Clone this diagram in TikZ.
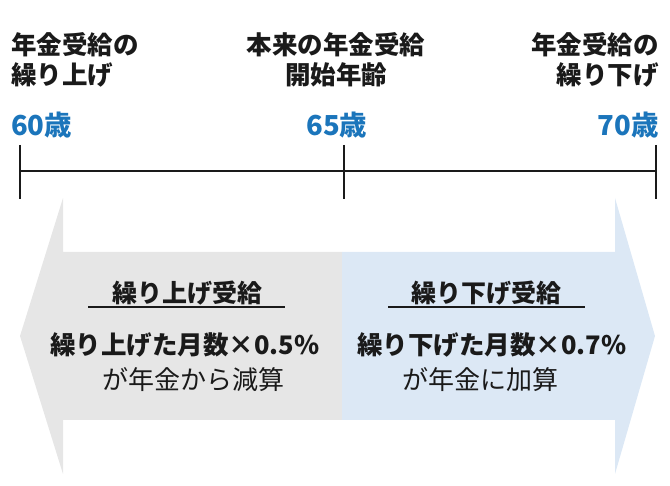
\documentclass[tikz,border=0pt]{standalone}
\usepackage{fontspec}
\setmainfont{Noto Sans CJK JP}
\definecolor{ageblue}{HTML}{1B75BB}
\definecolor{leftgray}{HTML}{E6E6E6}
\definecolor{rightblue}{HTML}{DCE8F5}
\definecolor{txt}{HTML}{1A1A1A}
\tikzset{
  toplabel/.style={font=\bfseries\fontsize{25.5}{30}\selectfont, text=txt, inner sep=0pt},
  agelabel/.style={font=\bfseries\fontsize{27.5}{30}\selectfont, text=ageblue, inner sep=0pt},
  tline/.style={line width=1.4pt, draw=txt},
  boxtitle/.style={font=\bfseries\fontsize{25}{28}\selectfont, text=txt, inner sep=0pt},
  boxmain/.style={font=\bfseries\fontsize{25.5}{28}\selectfont, text=txt, inner sep=0pt},
  boxsub/.style={font=\fontsize{26}{28}\selectfont, text=txt, inner sep=0pt},
  uline/.style={line width=1.4pt, draw=txt}
}
\begin{document}
\begin{tikzpicture}[x=1pt,y=-1pt]
\useasboundingbox (0,0) rectangle (670,486);
% arrows
\fill[leftgray] (342,252) -- (63,252) -- (63,198) -- (20,336) -- (63,474) -- (63,420) -- (342,420) -- cycle;
\fill[rightblue] (342,252) -- (615,252) -- (615,198) -- (655,336) -- (615,474) -- (615,420) -- (342,420) -- cycle;
% top labels
\node[toplabel, anchor=west, align=left] (lup) at (11,60) {年金受給の\\繰り上げ};
\node[toplabel, anchor=center, align=center] (lmid) at (336,60) {本来の年金受給\\開始年齢};
\node[toplabel, anchor=east, align=right] (ldown) at (659,60) {年金受給の\\繰り下げ};
% ages
\node[agelabel, anchor=west] (a60) at (11,125) {60歳};
\node[agelabel, anchor=center] (a65) at (337,125) {65歳};
\node[agelabel, anchor=east] (a70) at (659,125) {70歳};
% timeline
\coordinate (t60a) at (20,145); \coordinate (t60b) at (20,199);
\coordinate (t65a) at (344,145); \coordinate (t65b) at (344,199);
\coordinate (t70a) at (656,145); \coordinate (t70b) at (656,199);
\coordinate (m60) at (20,171); \coordinate (m70) at (656,171);
\draw[tline] (t60a) -- (t60b);
\draw[tline] (t65a) -- (t65b);
\draw[tline] (t70a) -- (t70b);
\draw[tline] (m60) -- (m70);
% left box text
\node[boxtitle] (ltitle) at (187,293) {繰り上げ受給};
\coordinate (lu1) at (88,307); \coordinate (lu2) at (285,307);
\draw[uline] (lu1) -- (lu2);
\node[boxmain] (lmain) at (185,345) {繰り上げた月数×0.5\%};
\node[boxsub] (lsub) at (193,380) {が年金から減算};
% right box text
\node[boxtitle] (rtitle) at (486,293) {繰り下げ受給};
\coordinate (ru1) at (388,307); \coordinate (ru2) at (585,307);
\draw[uline] (ru1) -- (ru2);
\node[boxmain] (rmain) at (492,345) {繰り下げた月数×0.7\%};
\node[boxsub] (rsub) at (480,380) {が年金に加算};
\end{tikzpicture}
\end{document}
